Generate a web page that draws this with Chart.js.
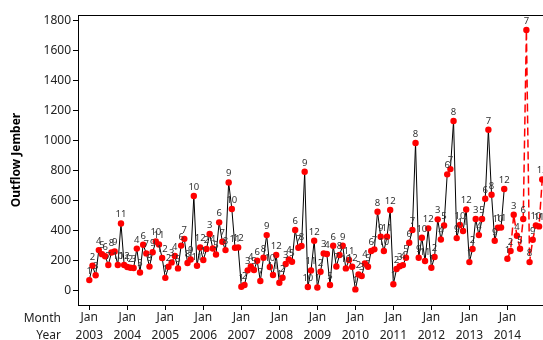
<!DOCTYPE html>
<html>
<head>
<meta charset="utf-8">
<script src="https://cdn.jsdelivr.net/npm/chart.js@4"></script>
<style>
  html, body { margin: 0; padding: 0; background: #fff; overflow: hidden; }
  #wrap { width: 543px; height: 340px; overflow: hidden; }
</style>
</head>
<body>
<div id="wrap"><canvas id="chart" width="565" height="340"></canvas></div>
<script>
// Tick labels
const years = ['2003', '2004', '2005', '2006', '2007', '2008', '2009', '2010', '2011', '2012', '2013', '2014'];
const monthNumbers = [1, 2, 3, 4, 5, 6, 7, 8, 9, 10, 11, 12];
const yTicks = [0, 200, 400, 600, 800, 1000, 1200, 1400, 1600, 1800];

// Monthly outflow, Jan 2003 - Dec 2013
const outflow = [
  71, 167, 103, 271, 244, 230, 172, 255, 262, 172, 448, 172,   // 2003
  158, 153, 152, 281, 122, 307, 249, 161, 257, 328, 308, 218,  // 2004
  86, 160, 189, 232, 149, 301, 346, 185, 208, 632, 167, 289,   // 2005
  205, 278, 378, 282, 242, 456, 327, 271, 722, 545, 287, 289,  // 2006
  27, 38, 136, 162, 138, 200, 65, 220, 371, 158, 105, 238,     // 2007
  53, 87, 178, 209, 193, 405, 287, 298, 793, 25, 135, 333,     // 2008
  22, 127, 249, 245, 38, 300, 162, 238, 300, 149, 205, 160,    // 2009
  9, 109, 98, 182, 160, 265, 276, 527, 360, 265, 360, 538,     // 2010
  43, 145, 163, 171, 220, 320, 405, 985, 220, 353, 198, 416,   // 2011
  153, 225, 476, 342, 435, 776, 811, 1131, 351, 438, 398, 542, // 2012
  191, 278, 478, 371, 478, 613, 1073, 640, 333, 420, 422, 678  // 2013
];

// Forecast, Jan 2014 - Dec 2014
const forecast = [213, 265, 507, 367, 280, 478, 1738, 191, 340, 436, 429, 742];

const histPoints = outflow.map((v, i) => ({ x: i, y: v }));
const fcPoints = forecast.map((v, i) => ({ x: outflow.length + i, y: v }));

const FONT = "'Noto Sans', 'DejaVu Sans', sans-serif";

// month number above each point, plus Month / Year captions and the frame
const labelsPlugin = {
  id: 'monthLabels',
  afterDatasetsDraw(chart) {
    const ctx = chart.ctx;
    ctx.save();
    ctx.font = '9.5px ' + FONT;
    ctx.fillStyle = '#333';
    ctx.textAlign = 'center';
    ctx.textBaseline = 'bottom';
    chart.data.datasets.forEach((ds, d) => {
      chart.getDatasetMeta(d).data.forEach((pt, i) => {
        ctx.fillText(String(monthNumbers[i % 12]), pt.x, pt.y - 4);
      });
    });
    ctx.restore();
  },
  afterDraw(chart) {
    const ctx = chart.ctx;
    const a = chart.chartArea;
    ctx.save();
    ctx.strokeStyle = '#000';
    ctx.lineWidth = 1;
    ctx.strokeRect(a.left + 0.5, a.top + 0.5, a.right - a.left, a.bottom - a.top);
    ctx.font = '12px ' + FONT;
    ctx.fillStyle = '#222';
    ctx.textAlign = 'right';
    ctx.textBaseline = 'middle';
    ctx.fillText('Month', 61, 319);
    ctx.fillText('Year', 61, 336);
    ctx.restore();
  }
};

new Chart(document.getElementById('chart'), {
  type: 'line',
  data: {
    datasets: [
      {
        data: histPoints,
        borderColor: '#000',
        borderWidth: 1,
        pointBackgroundColor: '#ff0000',
        pointBorderWidth: 0,
        pointRadius: 3.2,
        tension: 0
      },
      {
        data: fcPoints,
        borderColor: '#ff0000',
        borderWidth: 1.5,
        borderDash: [8, 4],
        pointBackgroundColor: '#ff0000',
        pointBorderWidth: 0,
        pointRadius: 3.2,
        tension: 0
      }
    ]
  },
  options: {
    responsive: false,
    animation: false,
    devicePixelRatio: 1,
    layout: { padding: { top: 15, right: 12, left: 0, bottom: 0 } },
    plugins: { legend: { display: false }, tooltip: { enabled: false } },
    scales: {
      x: {
        type: 'linear',
        min: -3.57,
        max: 146.4,
        afterBuildTicks: (scale) => { scale.ticks = years.map((y, i) => ({ value: i * 12 })); },
        afterFit: (scale) => { scale.height = 35; },
        grid: { display: true, drawOnChartArea: false, drawTicks: true, tickLength: 5, color: '#000' },
        border: { display: true, color: '#000' },
        ticks: {
          autoSkip: false,
          maxRotation: 0,
          padding: -1,
          color: '#222',
          font: { family: FONT, size: 12, lineHeight: 1.5 },
          callback: (value) => ['Jan', years[Math.round(value / 12)]]
        }
      },
      y: {
        min: -95,
        max: 1838,
        afterBuildTicks: (scale) => { scale.ticks = yTicks.map(v => ({ value: v })); },
        afterFit: (scale) => { scale.width = 78; },
        grid: { display: true, drawOnChartArea: false, drawTicks: true, tickLength: 5, color: '#000' },
        border: { display: true, color: '#000' },
        title: {
          display: true,
          text: 'Outflow Jember',
          color: '#000',
          padding: { top: 9, bottom: 0 },
          font: { family: FONT, size: 12, weight: 'bold', lineHeight: 1.2 }
        },
        ticks: {
          padding: 2,
          color: '#222',
          font: { family: FONT, size: 12 },
          callback: (value) => String(value)
        }
      }
    }
  },
  plugins: [labelsPlugin]
});
</script>
</body>
</html>
